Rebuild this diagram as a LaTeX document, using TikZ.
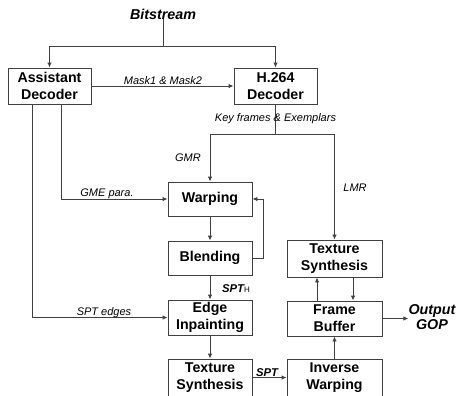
\documentclass[tikz,border=0pt]{standalone}
\usepackage{fontspec}
\setmainfont{Liberation Sans}
\usetikzlibrary{arrows.meta,calc}
\definecolor{ln}{HTML}{404040}
\begin{document}
\begin{tikzpicture}[x=1bp,y=-1bp,
  box/.style={draw=ln, line width=0.9bp, align=center, inner sep=0pt,
    font=\fontsize{14.2bp}{17bp}\selectfont\bfseries},
  lab/.style={inner sep=0pt, anchor=base, font=\fontsize{11bp}{13bp}\selectfont\itshape},
  blab/.style={inner sep=0pt, anchor=base, font=\fontsize{11.3bp}{13bp}\selectfont\bfseries\itshape},
  big/.style={inner sep=0pt, align=center, font=\fontsize{14.3bp}{15.5bp}\selectfont\bfseries\itshape},
  con/.style={draw=ln, line width=0.9bp},
  arr/.style={con, -{Latex[length=5bp,width=4.5bp]}}]
\useasboundingbox (0,0) rectangle (457,395);

% boxes
\node[box, minimum width=83bp, minimum height=36bp] (ad) at (49.5,86) {Assistant\\Decoder};
\node[box, minimum width=83bp, minimum height=36bp] (h264) at (275.5,86) {H.264\\Decoder};
\node[box, minimum width=84bp, minimum height=34bp] (warp) at (210,199) {Warping};
\node[box, minimum width=84bp, minimum height=34bp] (blend) at (210,258) {Blending};
\node[box, minimum width=84bp, minimum height=35bp] (edge) at (210,317.5) {Edge\\Inpainting};
\node[box, minimum width=84bp, minimum height=37bp] (tsa) at (210,377.5) {Texture\\Synthesis};
\node[box, minimum width=95bp, minimum height=37bp] (tsb) at (334.5,258.5) {Texture\\Synthesis};
\node[box, minimum width=95bp, minimum height=35bp] (fb) at (334.5,318.5) {Frame\\Buffer};
\node[box, minimum width=95bp, minimum height=37bp] (iw) at (334.5,378) {Inverse\\Warping};

% texts
\node[big, anchor=base] (bs) at (163,19) {Bitstream};
\node[big] (out) at (432,317) {Output\\GOP};

\coordinate (j1) at (163,46);
\coordinate (j2) at (275.5,134);

% connectors
\draw[con] (bs.south) -- (j1);
\draw[arr] (j1) -| (ad.north);
\draw[arr] (j1) -| (h264.north);
\draw[arr] (ad.east) -- (h264.west);
\draw[con] (h264.south) -- (j2);
\draw[arr] (j2) -| (warp.north);
\draw[arr] (j2) -| (tsb.north);
\draw[arr] ([xshift=11.5bp]ad.south) |- (warp.west);
\draw[arr] ([xshift=-17.5bp]ad.south) |- (edge.west);
\draw[arr] (warp) -- (blend);
\draw[arr] (blend.east) -- ++(11,0) |- (warp.east);
\draw[arr] (blend) -- (edge);
\draw[arr] (edge) -- (tsa);
\draw[arr] (tsa.east) -- (tsa.east -| iw.west);
\draw[arr] (iw) -- (fb);
\draw[arr] ([xshift=-17.5bp]fb.north) -- ([xshift=-17.5bp]tsb.south);
\draw[arr] ([xshift=18.5bp]tsb.south) -- ([xshift=18.5bp]fb.north);
\draw[arr] (fb.east) -- (fb.east -| out.west);

% labels
\node[lab] (lmask) at (163,84) {Mask1 \& Mask2};
\node[lab] (lkey) at (275.5,121.5) {Key frames \& Exemplars};
\node[lab] (lgmr) at (188,161) {GMR};
\node[lab] (lgme) at (107,196.7) {GME para.};
\node[lab] (llmr) at (355,191) {LMR};
\node[lab] (lspte) at (104,315.7) {SPT edges};
\node[blab] (lspth) at (236,292.5) {SPT{\fontsize{8bp}{9bp}\selectfont\mdseries\upshape H}};
\node[blab] (lspt) at (267,376.5) {SPT};
\end{tikzpicture}
\end{document}
